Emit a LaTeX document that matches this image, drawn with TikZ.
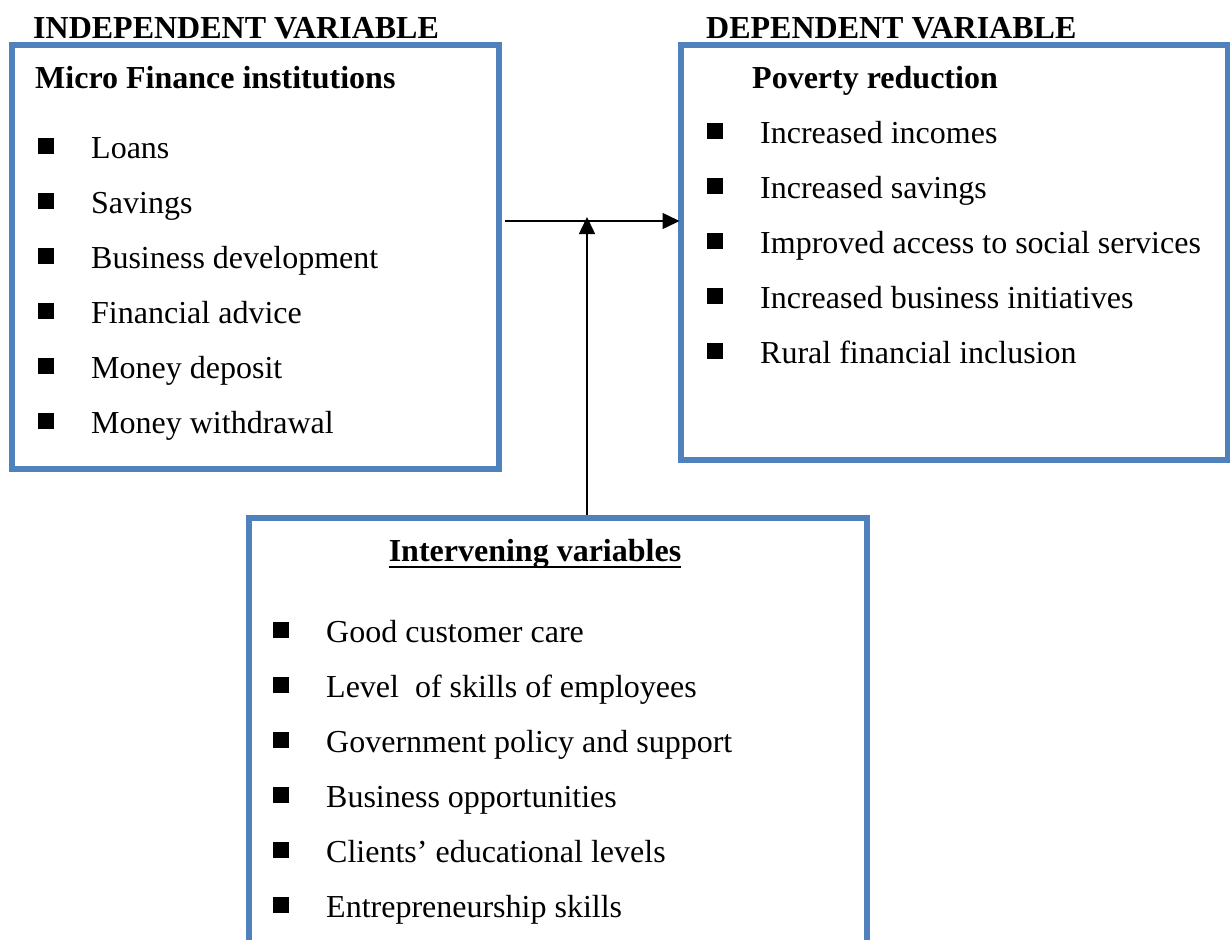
\documentclass[tikz,border=0pt]{standalone}
\usepackage{fontspec}
\setmainfont{Liberation Serif}
\usetikzlibrary{arrows.meta,positioning}
\definecolor{boxblue}{HTML}{4F81BD}
\tikzset{
  boxline/.style={draw=boxblue,line width=6pt,inner sep=0pt},
  item/.style={anchor=base west,inner sep=0pt,font=\fontsize{32}{38}\selectfont},
  head/.style={item,font=\fontsize{32}{38}\selectfont\bfseries},
  sq/.style={fill=black,minimum size=16pt,inner sep=0pt},
  ar/.style={-{Triangle[length=17pt,width=16pt]},line width=1.5pt}
}
\begin{document}
\begin{tikzpicture}[x=1pt,y=-1pt]
\useasboundingbox (0,0) rectangle (1230,939);
\clip (0,0) rectangle (1230,939);
\node[boxline,minimum width=487pt,minimum height=424pt] (indep) at (255.5,257) {};
\node[boxline,minimum width=547pt,minimum height=415pt] (dep) at (954,252.5) {};
\node[boxline,minimum width=618pt,minimum height=460pt] (interv) at (558,748) {};
\node[head] (indhead) at (33,39) {INDEPENDENT VARIABLE};
\node[head] (dephead) at (706,39) {DEPENDENT VARIABLE};
\node[head] (mfi) at (35,89) {Micro Finance institutions};
\node[head] (pov) at (752,89) {Poverty reduction};
\node[head,anchor=base] (ivhead) at (535,561) {Intervening variables};
\draw[line width=2.2pt] ([yshift=-6pt]ivhead.base west) -- ([yshift=-6pt]ivhead.base east);
\foreach \t [count=\i from 0] in {Loans,Savings,Business development,Financial advice,Money deposit,Money withdrawal}{
  \node[sq] (lsq\i) at (46,{146+55*\i}) {};
  \node[item] (lit\i) at (91,{158+55*\i}) {\t};
}
\foreach \t [count=\i from 0] in {Increased incomes,Increased savings,Improved access to social services,Increased business initiatives,Rural financial inclusion}{
  \node[sq] (rsq\i) at (715,{130.5+55*\i}) {};
  \node[item] (rit\i) at (760,{143+55*\i}) {\t};
}
\foreach \t [count=\i from 0] in {Good customer care,Level~ of skills of employees,Government policy and support,Business opportunities,Clients’ educational levels,Entrepreneurship skills}{
  \node[sq] (bsq\i) at (281,{630+55*\i}) {};
  \node[item] (bit\i) at (326,{642+55*\i}) {\t};
}
\coordinate (hstart) at (505,221);
\coordinate (meet) at (587,217);
\draw[ar] (hstart) -- ([xshift=2pt]hstart -| dep.west);
\draw[ar] (meet |- interv.north) -- (meet);
\end{tikzpicture}
\end{document}
